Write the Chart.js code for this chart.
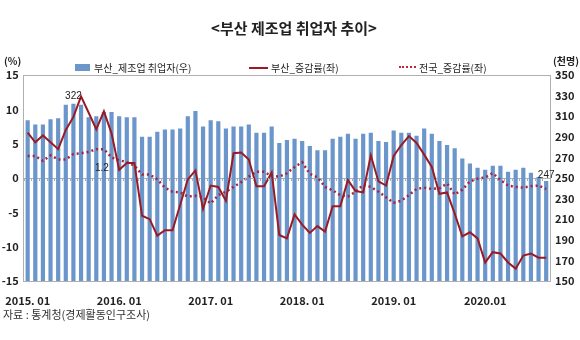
<!DOCTYPE html>
<html>
<head>
<meta charset="utf-8">
<script src="https://cdn.jsdelivr.net/npm/chart.js@4"></script>
<style>
  body { margin: 0; background: #fff; font-family: "Noto Sans CJK KR", sans-serif; }
  #wrap { position: relative; width: 580px; height: 340px; }
  #wrap canvas { position: absolute; left: 0; top: 0; }
  .txt { position: absolute; white-space: nowrap; color: #222; }
  .title { left: 0; width: 588px; top: 17px; text-align: center; font-size: 15px; font-weight: bold; }
  .unit { top: 53px; font-size: 10px; font-weight: bold; }
  .leg { top: 60px; font-size: 10px; }
  .src { left: 3px; top: 306px; font-size: 11px; color: #333; }
  .swatch { position: absolute; }
</style>
</head>
<body>
<div id="wrap">
  <canvas id="chart" width="580" height="340"></canvas>
  <div class="txt title">&lt;부산 제조업 취업자 추이&gt;</div>
  <div class="txt unit" style="left:4px">(%)</div>
  <div class="txt unit" style="left:553px">(천명)</div>
  <div class="swatch" style="left:75px;top:64px;width:15px;height:7px;background:#6b96cb"></div>
  <div class="txt leg" style="left:94px">부산_제조업 취업자(우)</div>
  <div class="swatch" style="left:249px;top:67px;width:19px;height:2px;background:#9b1b24"></div>
  <div class="txt leg" style="left:271px">부산_증감률(좌)</div>
  <div class="swatch" style="left:399px;top:66px;width:17px;height:0;border-top:2px dotted #c0283a"></div>
  <div class="txt leg" style="left:419px">전국_증감률(좌)</div>
  <div class="txt src">자료 : 통계청(경제활동인구조사)</div>
</div>
<script>
// 2015.01 ~ 2020.09, monthly
const months = [];
for (let y = 2015; y <= 2020; y++) {
    for (let m = 1; m <= 12; m++) {
        if (y === 2020 && m > 9) break;
        months.push(y + '.' + String(m).padStart(2, '0'));
    }
}
const xTickLabels = ['2015. 01', '2016. 01', '2017. 01', '2018. 01', '2019. 01', '2020.01'];

// 부산 제조업 취업자 (천명, 우축)
const busanEmp = [
    306, 302, 302, 307, 308, 321, 322, 321, 309, 310, 314, 314,
    310, 309, 309, 290, 290, 295, 297, 297, 298, 310, 315, 300,
    306, 305, 298, 300, 300, 302, 294, 294, 300, 284, 287, 288,
    286, 281, 277, 277, 288, 290, 293, 288, 293, 294, 286, 285,
    296, 294, 294, 291, 298, 293, 286, 282, 279, 269, 264, 260,
    258, 262, 262, 256, 258, 260, 255, 251, 247
];
// 부산 증감률 (%, 좌축)
const busanRate = [
    6.6, 5.2, 6.2, 5.2, 4.2, 7.0, 8.9, 11.9, 9.5, 7.1, 9.7, 6.5,
    1.2, 2.2, 2.2, -5.5, -6.0, -8.4, -7.6, -7.6, -3.9, -0.2, 1.1, -4.5,
    -1.1, -1.3, -3.3, 3.6, 3.7, 2.7, -1.2, -1.2, 0.8, -8.3, -8.8, -5.3,
    -6.8, -8.0, -7.0, -7.8, -4.1, -4.1, -0.3, -1.9, -2.1, 3.3, -0.5, -1.1,
    3.2, 4.8, 6.1, 5.1, 3.4, 1.6, -2.3, -2.1, -5.2, -8.5, -7.9, -8.8,
    -12.3, -10.8, -11.0, -12.3, -13.2, -11.3, -11.0, -11.6, -11.6
];
// 전국 증감률 (%, 좌축)
const nationRate = [
    3.2, 3.2, 2.5, 3.3, 2.7, 2.7, 3.5, 3.6, 3.8, 4.2, 4.2, 3.0,
    2.6, 2.3, 1.8, 0.5, 0.5, -0.2, -1.4, -2.0, -2.1, -2.7, -2.6, -2.8,
    -3.7, -2.5, -2.0, -1.3, -0.6, 0.2, 0.9, 0.9, 0.3, 0.2, 0.7, 1.6,
    2.3, 0.6, 0.1, -1.3, -1.8, -2.5, -2.7, -2.0, -1.0, -1.3, -2.0, -2.8,
    -3.6, -3.3, -2.5, -1.6, -1.4, -1.6, -1.5, -0.8, -2.4, -1.7, -0.5, -0.1,
    0.1, 0.7, -0.3, -1.1, -1.3, -1.4, -1.2, -1.1, -1.6
];
// 값 표시 (index, axis, value, text)
const pointLabels = [
    { i: 6, axis: 'y1', v: 322, text: '322', dx: 0, dy: -8 },
    { i: 68, axis: 'y1', v: 247, text: '247', dx: 0, dy: -6 },
    { i: 10, axis: 'y', v: 1.4, text: '1.2', dx: -2, dy: 0 }
];

const tickFont = { family: '"Noto Sans CJK KR", sans-serif', size: 11, weight: 'bold' };

// 0선 눈금과 데이터 라벨
const extras = {
    id: 'extras',
    afterDatasetsDraw(chart) {
        const { ctx, scales } = chart;
        const x = scales.x, y = scales.y;
        const y0 = y.getPixelForValue(0);
        ctx.save();
        ctx.strokeStyle = '#b0b0b0';
        ctx.lineWidth = 1;
        ctx.beginPath();
        for (let i = 0; i <= months.length; i++) {
            const px = Math.round(x.getPixelForValue(i) - (x.getPixelForValue(1) - x.getPixelForValue(0)) / 2) + 0.5;
            ctx.moveTo(px, y0);
            ctx.lineTo(px, y0 + 3);
        }
        ctx.stroke();
        ctx.font = '10px "Liberation Sans Narrow", "Liberation Sans", sans-serif';
        ctx.fillStyle = '#222';
        ctx.textAlign = 'center';
        ctx.textBaseline = 'bottom';
        pointLabels.forEach(l => {
            const px = x.getPixelForValue(l.i) + l.dx;
            const py = scales[l.axis].getPixelForValue(l.v) + l.dy;
            ctx.fillText(l.text, px, py + 5);
        });
        ctx.restore();
    }
};

new Chart(document.getElementById('chart').getContext('2d'), {
    data: {
        labels: months,
        datasets: [
            {
                type: 'line',
                label: '부산_증감률(좌)',
                data: busanRate,
                yAxisID: 'y',
                borderColor: '#9b1b24',
                borderWidth: 2,
                pointRadius: 0,
                tension: 0,
                order: 1
            },
            {
                type: 'line',
                label: '전국_증감률(좌)',
                data: nationRate,
                yAxisID: 'y',
                borderColor: '#a8243a',
                borderWidth: 2.5,
                borderDash: [2, 3],
                pointRadius: 0,
                tension: 0,
                order: 2
            },
            {
                type: 'bar',
                label: '부산_제조업 취업자(우)',
                data: busanEmp,
                yAxisID: 'y1',
                backgroundColor: '#6b96cb',
                barPercentage: 0.55,
                categoryPercentage: 1,
                order: 3
            }
        ]
    },
    options: {
        responsive: false,
        animation: false,
        layout: { padding: { top: 75, left: 0, right: 0, bottom: 0 } },
        plugins: { legend: { display: false }, tooltip: { enabled: false } },
        scales: {
            x: {
                offset: true,
                afterFit: s => { s.height = 59; },
                grid: { display: false },
                border: { display: true, color: '#b0b0b0' },
                ticks: {
                    autoSkip: false,
                    maxRotation: 0,
                    padding: 5,
                    color: '#222',
                    font: tickFont,
                    callback: (v, i) => (i % 12 === 0 ? xTickLabels[i / 12] : '')
                }
            },
            y: {
                position: 'left',
                min: -15,
                max: 15,
                afterFit: s => { s.width = 22; },
                grid: {
                    color: c => (c.tick.value === 0 || c.tick.value === 15 ? '#b0b0b0' : 'rgba(0,0,0,0)'),
                    drawTicks: false
                },
                border: { display: true, color: '#b0b0b0' },
                ticks: { stepSize: 5, padding: 5, color: '#222', font: tickFont }
            },
            y1: {
                position: 'right',
                min: 150,
                max: 350,
                afterFit: s => { s.width = 30; },
                grid: { drawOnChartArea: false, drawTicks: false },
                border: { display: true, color: '#b0b0b0' },
                ticks: { stepSize: 20, padding: 5, color: '#222', font: tickFont }
            }
        }
    },
    plugins: [extras]
});
</script>
</body>
</html>
